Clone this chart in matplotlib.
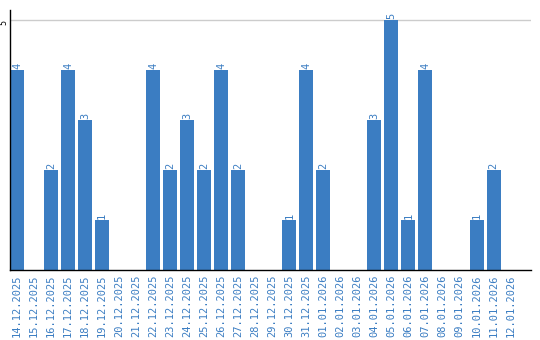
import matplotlib
matplotlib.use("Agg")
import matplotlib.pyplot as plt
import numpy as np

dates = ["14.12.2025", "15.12.2025", "16.12.2025", "17.12.2025", "18.12.2025",
         "19.12.2025", "20.12.2025", "21.12.2025", "22.12.2025", "23.12.2025",
         "24.12.2025", "25.12.2025", "26.12.2025", "27.12.2025", "28.12.2025",
         "29.12.2025", "30.12.2025", "31.12.2025", "01.01.2026", "02.01.2026",
         "03.01.2026", "04.01.2026", "05.01.2026", "06.01.2026", "07.01.2026",
         "08.01.2026", "09.01.2026", "10.01.2026", "11.01.2026", "12.01.2026"]
counts = [4, 0, 2, 4, 3, 1, 0, 0, 4, 2, 3, 2, 4, 2, 0,
          0, 1, 4, 2, 0, 0, 3, 5, 1, 4, 0, 0, 1, 2, 0]

blue = "#3b7dc2"
W, H = 540, 340
fig = plt.figure(figsize=(W / 100, H / 100), dpi=100)
ax = fig.add_axes([10 / W, (H - 270) / H, (531 - 10) / W, 260 / H])

x = np.arange(len(dates))
ax.bar(x, counts, width=14 / 17, color=blue, zorder=2)
for xi, c in zip(x, counts):
    if c > 0:
        ax.text(xi, c + 0.02, str(c), rotation=90, ha="center", va="bottom",
                color=blue, fontsize=7.5, family="DejaVu Sans Mono")

ax.set_xlim(-0.41, 30.2)
ax.set_ylim(0, 5.2)
ax.axhline(5, color="#cccccc", lw=1, zorder=1)

ax.set_xticks(x)
ax.set_xticklabels(dates, rotation=90, color=blue, fontsize=7.5, family="DejaVu Sans Mono")
ax.set_yticks([5])
ax.set_yticklabels(["5"], rotation=90, va="top", fontsize=6, family="DejaVu Sans Mono")
ax.tick_params(axis="both", length=0, pad=3)
ax.tick_params(axis="y", pad=1)

for s in ["top", "right"]:
    ax.spines[s].set_visible(False)
ax.spines["left"].set_color("black")
ax.spines["bottom"].set_color("black")
ax.spines["left"].set_linewidth(1)
ax.spines["bottom"].set_linewidth(1)

fig.savefig("out.png", dpi=100)
